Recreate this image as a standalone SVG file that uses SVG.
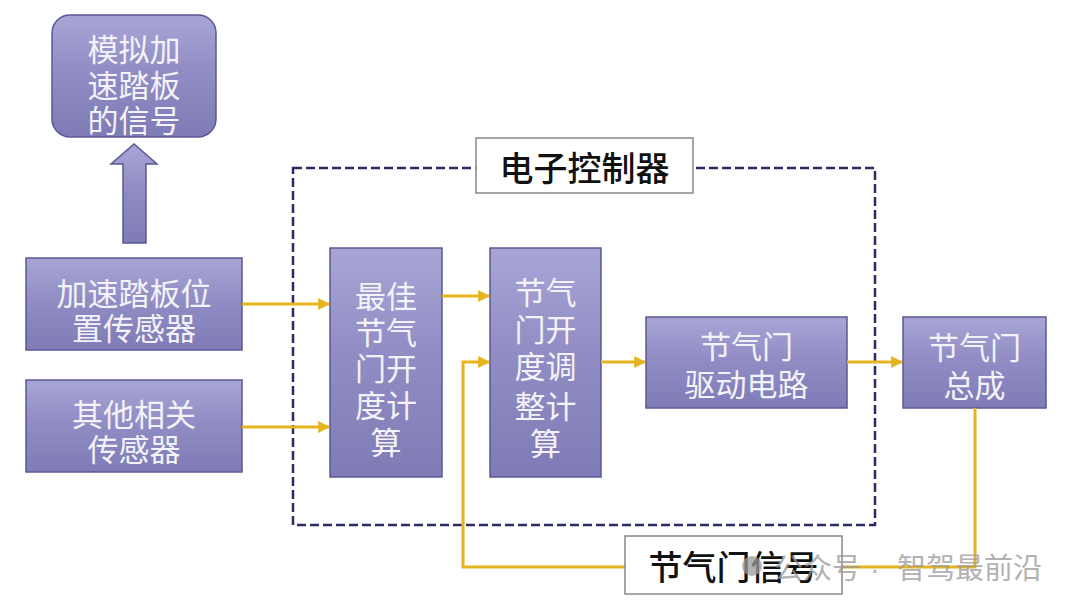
<svg xmlns="http://www.w3.org/2000/svg" width="1080" height="609" viewBox="0 0 1080 609">
<defs>
<linearGradient id="pg" x1="0" y1="0" x2="0" y2="1">
<stop offset="0" stop-color="#a8a5d6"/>
<stop offset="0.5" stop-color="#8f8bc3"/>
<stop offset="1" stop-color="#7f7bb6"/>
</linearGradient>
<marker id="ah" viewBox="0 0 10 10" refX="9" refY="5" markerWidth="12" markerHeight="12" markerUnits="userSpaceOnUse" orient="auto">
<path d="M0,0 L10,5 L0,10 Z" fill="#e6b41e"/>
</marker>
<style>
.box{fill:url(#pg);stroke:#5b5893;stroke-width:1.5}
.wt{fill:#f2f2f8;font-family:"Liberation Sans","Noto Sans CJK SC",sans-serif;font-size:31px;text-anchor:middle;dominant-baseline:central}
.lab{fill:#fff;stroke:#888;stroke-width:1.5}
.bt{fill:#111;font-family:"Liberation Sans","Noto Sans CJK SC",sans-serif;font-size:34px;font-weight:500;text-anchor:middle;dominant-baseline:central}
.conn{fill:none;stroke:#e6b41e;stroke-width:3}
</style>
</defs>
<rect width="1080" height="609" fill="#fff"/>
<g id="controller">
<rect x="293" y="168" width="582" height="357" fill="none" stroke="#2b2b66" stroke-width="2.5" stroke-dasharray="9 4"/>
<rect class="lab" x="476" y="138" width="217" height="55"/>
<text class="bt" x="584.5" y="169">电子控制器</text>
</g>
<g id="analog-signal">
<rect class="box" x="52" y="15" width="164" height="122" rx="18"/>
<text class="wt"><tspan x="134" y="50">模拟加</tspan><tspan x="134" y="86">速踏板</tspan><tspan x="134" y="121">的信号</tspan></text>
</g>
<g id="up-arrow">
<path d="M123,243 L123,164 L111,164 L134,144 L157,164 L146,164 L146,243 Z" class="box"/>
</g>
<g id="pedal-sensor">
<rect class="box" x="26" y="258" width="216" height="92"/>
<text class="wt"><tspan x="134" y="294">加速踏板位</tspan><tspan x="134" y="329">置传感器</tspan></text>
</g>
<g id="other-sensors">
<rect class="box" x="26" y="380" width="216" height="92"/>
<text class="wt"><tspan x="134" y="415">其他相关</tspan><tspan x="134" y="450">传感器</tspan></text>
</g>
<g id="optimal-calc">
<rect class="box" x="330" y="248" width="112" height="229"/>
<text class="wt"><tspan x="386" y="297">最佳</tspan><tspan x="386" y="333">节气</tspan><tspan x="386" y="369">门开</tspan><tspan x="386" y="406">度计</tspan><tspan x="386" y="443">算</tspan></text>
</g>
<g id="adjust-calc">
<rect class="box" x="490" y="248" width="111" height="229"/>
<text class="wt"><tspan x="545.5" y="293">节气</tspan><tspan x="545.5" y="330">门开</tspan><tspan x="545.5" y="367">度调</tspan><tspan x="545.5" y="407">整计</tspan><tspan x="545.5" y="444">算</tspan></text>
</g>
<g id="drive-circuit">
<rect class="box" x="646" y="317" width="201" height="91"/>
<text class="wt"><tspan x="746.5" y="347">节气门</tspan><tspan x="746.5" y="385">驱动电路</tspan></text>
</g>
<g id="throttle-assembly">
<rect class="box" x="903" y="317" width="143" height="91"/>
<text class="wt"><tspan x="974.5" y="348">节气门</tspan><tspan x="974.5" y="386">总成</tspan></text>
</g>
<g id="connectors">
<line class="conn" x1="242" y1="304" x2="329" y2="304" marker-end="url(#ah)"/>
<line class="conn" x1="242" y1="427" x2="329" y2="427" marker-end="url(#ah)"/>
<line class="conn" x1="442" y1="296" x2="489" y2="296" marker-end="url(#ah)"/>
<line class="conn" x1="601" y1="362" x2="645" y2="362" marker-end="url(#ah)"/>
<line class="conn" x1="847" y1="362" x2="902" y2="362" marker-end="url(#ah)"/>
<polyline class="conn" points="975,408 975,567 463,567 463,362 489,362" marker-end="url(#ah)"/>
</g>
<g id="throttle-signal">
<rect class="lab" x="625" y="536" width="217" height="58"/>
<text class="bt" x="733.5" y="568">节气门信号</text>
</g>
<g id="watermark" opacity="0.75">
<circle cx="752" cy="566" r="10" fill="#999"/>
<text fill="#999" font-family="Liberation Sans, Noto Sans CJK SC, sans-serif" font-size="29" dominant-baseline="central"><tspan x="774" y="569">公众号</tspan><tspan x="870" y="569">·</tspan><tspan x="897" y="569">智驾最前沿</tspan></text>
</g>
</svg>
